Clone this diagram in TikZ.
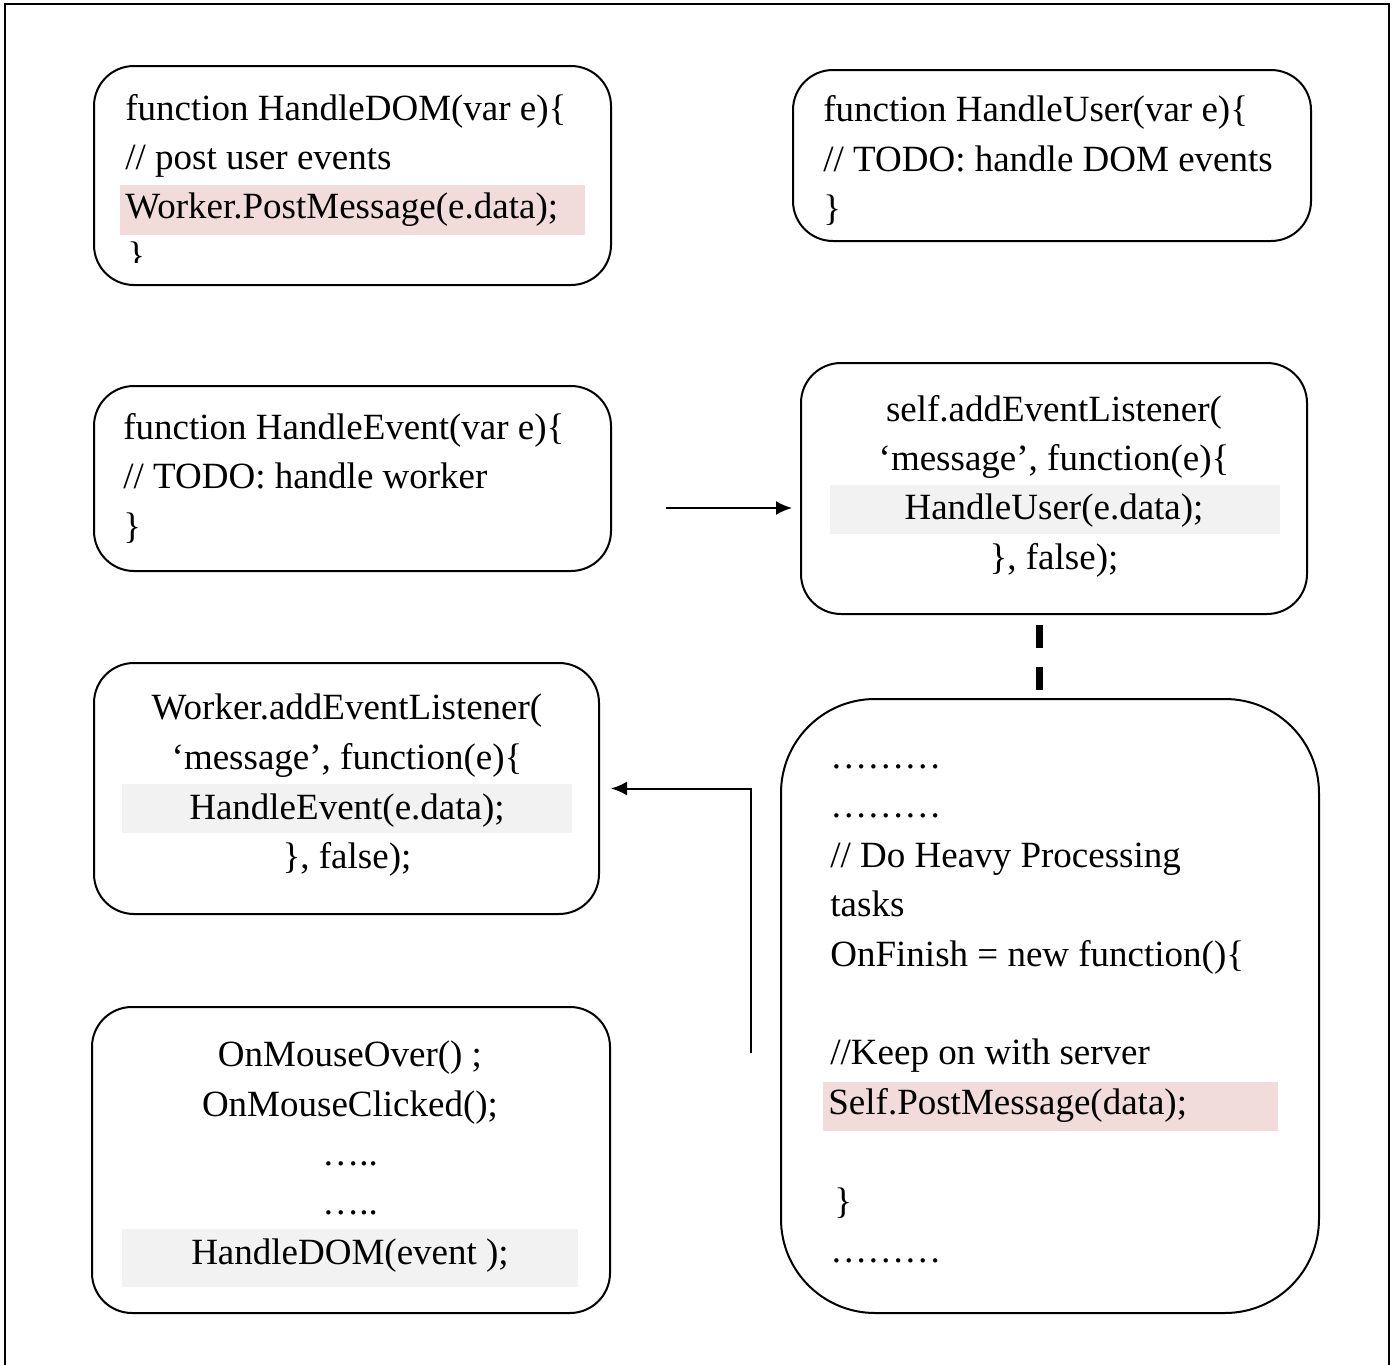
\documentclass[tikz,border=0pt]{standalone}
\usepackage{fontspec}
\setmainfont{Liberation Serif}
\usetikzlibrary{positioning,arrows.meta}
\definecolor{hlpink}{HTML}{F2DCDB}
\definecolor{hlgrey}{HTML}{F2F2F2}
\tikzset{
    % rounded code box
    codebox/.style = {draw=black, line width=1pt, rounded corners=20pt, inner sep=0pt},
    % one line of code
    codeline/.style = {inner sep=0pt, font=\fontsize{18.5}{25}\selectfont},
    % connectors
    link/.style = {line width=1pt, -{Latex[length=8pt,width=7pt]}},
    dashlink/.style = {line width=3.5pt, dash pattern=on 11.5pt off 9.5pt}
}

\begin{document}
\begin{tikzpicture}[x=0.5pt, y=-0.5pt]
    \useasboundingbox (0,0) rectangle (1394,1365);
    % outer frame
    \draw[line width=1pt] (5,1365) -- (5,4) -- (1389,4) -- (1389,1365);

    % highlighted lines
    \fill[hlpink] (120,185) rectangle (585,235);
    \fill[hlgrey] (830,485) rectangle (1280,534);
    \fill[hlgrey] (122,784) rectangle (572,833);
    \fill[hlgrey] (122,1229) rectangle (578,1287);
    \fill[hlpink] (823,1082) rectangle (1278,1131);

    % boxes
    \node[codebox, minimum width=258.5pt, minimum height=109.5pt] (domfn) at (352.5,175.5) {};
    \node[codebox, minimum width=259pt, minimum height=85.5pt] (userfn) at (1052,155.5) {};
    \node[codebox, minimum width=258.5pt, minimum height=92.5pt] (eventfn) at (352.5,478.5) {};
    \node[codebox, minimum width=253pt, minimum height=125.5pt] (selflis) at (1054,488.5) {};
    \node[codebox, minimum width=252.5pt, minimum height=125.5pt] (worklis) at (346.5,788.5) {};
    \node[codebox, minimum width=259pt, minimum height=153pt] (mouse) at (351,1160) {};
    \node[codebox, rounded corners=47pt, minimum width=269pt, minimum height=307pt] (heavy) at (1050,1006) {};

    % HandleDOM
    \node[codeline, anchor=base west] (domfn1) at (125,120) {function HandleDOM(var e)\{};
    \node[codeline, anchor=base west] (domfn2) at (125,169) {// post user events};
    \node[codeline, anchor=base west] (domfn3) at (125,218) {Worker.PostMessage(e.data);};
    \begin{scope}
        \clip (100,230) rectangle (600,262);
        \node[codeline, anchor=base west] (domfn4) at (127,267) {\}};
    \end{scope}

    % HandleUser
    \node[codeline, anchor=base west] (userfn1) at (823,121) {function HandleUser(var e)\{};
    \node[codeline, anchor=base west] (userfn2) at (823,171) {// TODO: handle DOM events};
    \node[codeline, anchor=base west] (userfn3) at (823,220) {\}};

    % HandleEvent
    \node[codeline, anchor=base west] (eventfn1) at (123,439) {function HandleEvent(var e)\{};
    \node[codeline, anchor=base west] (eventfn2) at (123,488) {// TODO: handle worker};
    \node[codeline, anchor=base west] (eventfn3) at (123,538) {\}};

    % self listener
    \node[codeline, anchor=base] (selflis1) at (1054,421) {self.addEventListener(};
    \node[codeline, anchor=base] (selflis2) at (1054,470) {‘message’, function(e)\{};
    \node[codeline, anchor=base] (selflis3) at (1054,519) {HandleUser(e.data);};
    \node[codeline, anchor=base] (selflis4) at (1054,569) {\}, false);};

    % worker listener
    \node[codeline, anchor=base] (worklis1) at (347,719) {Worker.addEventListener(};
    \node[codeline, anchor=base] (worklis2) at (347,769) {‘message’, function(e)\{};
    \node[codeline, anchor=base] (worklis3) at (347,819) {HandleEvent(e.data);};
    \node[codeline, anchor=base] (worklis4) at (347,868) {\}, false);};

    % mouse events
    \node[codeline, anchor=base] (mouse1) at (350,1066) {OnMouseOver() ;};
    \node[codeline, anchor=base] (mouse2) at (350,1116) {OnMouseClicked();};
    \node[codeline, anchor=base] (mouse3) at (350,1165) {…..};
    \node[codeline, anchor=base] (mouse4) at (350,1214) {…..};
    \node[codeline, anchor=base] (mouse5) at (350,1264) {HandleDOM(event );};

    % heavy processing
    \node[codeline, anchor=base west] (heavy1) at (830,768) {………};
    \node[codeline, anchor=base west] (heavy2) at (830,817) {………};
    \node[codeline, anchor=base west] (heavy3) at (830,867) {// Do Heavy Processing};
    \node[codeline, anchor=base west] (heavy4) at (830,916) {tasks};
    \node[codeline, anchor=base west] (heavy5) at (830,966) {OnFinish = new function()\{};
    \node[codeline, anchor=base west] (heavy6) at (830,1064) {//Keep on with server};
    \node[codeline, anchor=base west] (heavy7) at (828,1114) {Self.PostMessage(data);};
    \node[codeline, anchor=base west] (heavy8) at (834,1213) {\}};
    \node[codeline, anchor=base west] (heavy9) at (830,1262) {………};

    % connectors
    \coordinate (hstart) at (666,508);
    \draw[link, shorten >=4pt] (hstart) -- (hstart -| selflis.west);
    \coordinate (estart) at (751,1053);
    \draw[link] (estart) |- ([xshift=5.5pt]worklis.east);
    \coordinate (dtop) at (1039,625);
    \coordinate (dbot) at (1039,691);
    \draw[dashlink] (dtop) -- (dbot);
\end{tikzpicture}
\end{document}
